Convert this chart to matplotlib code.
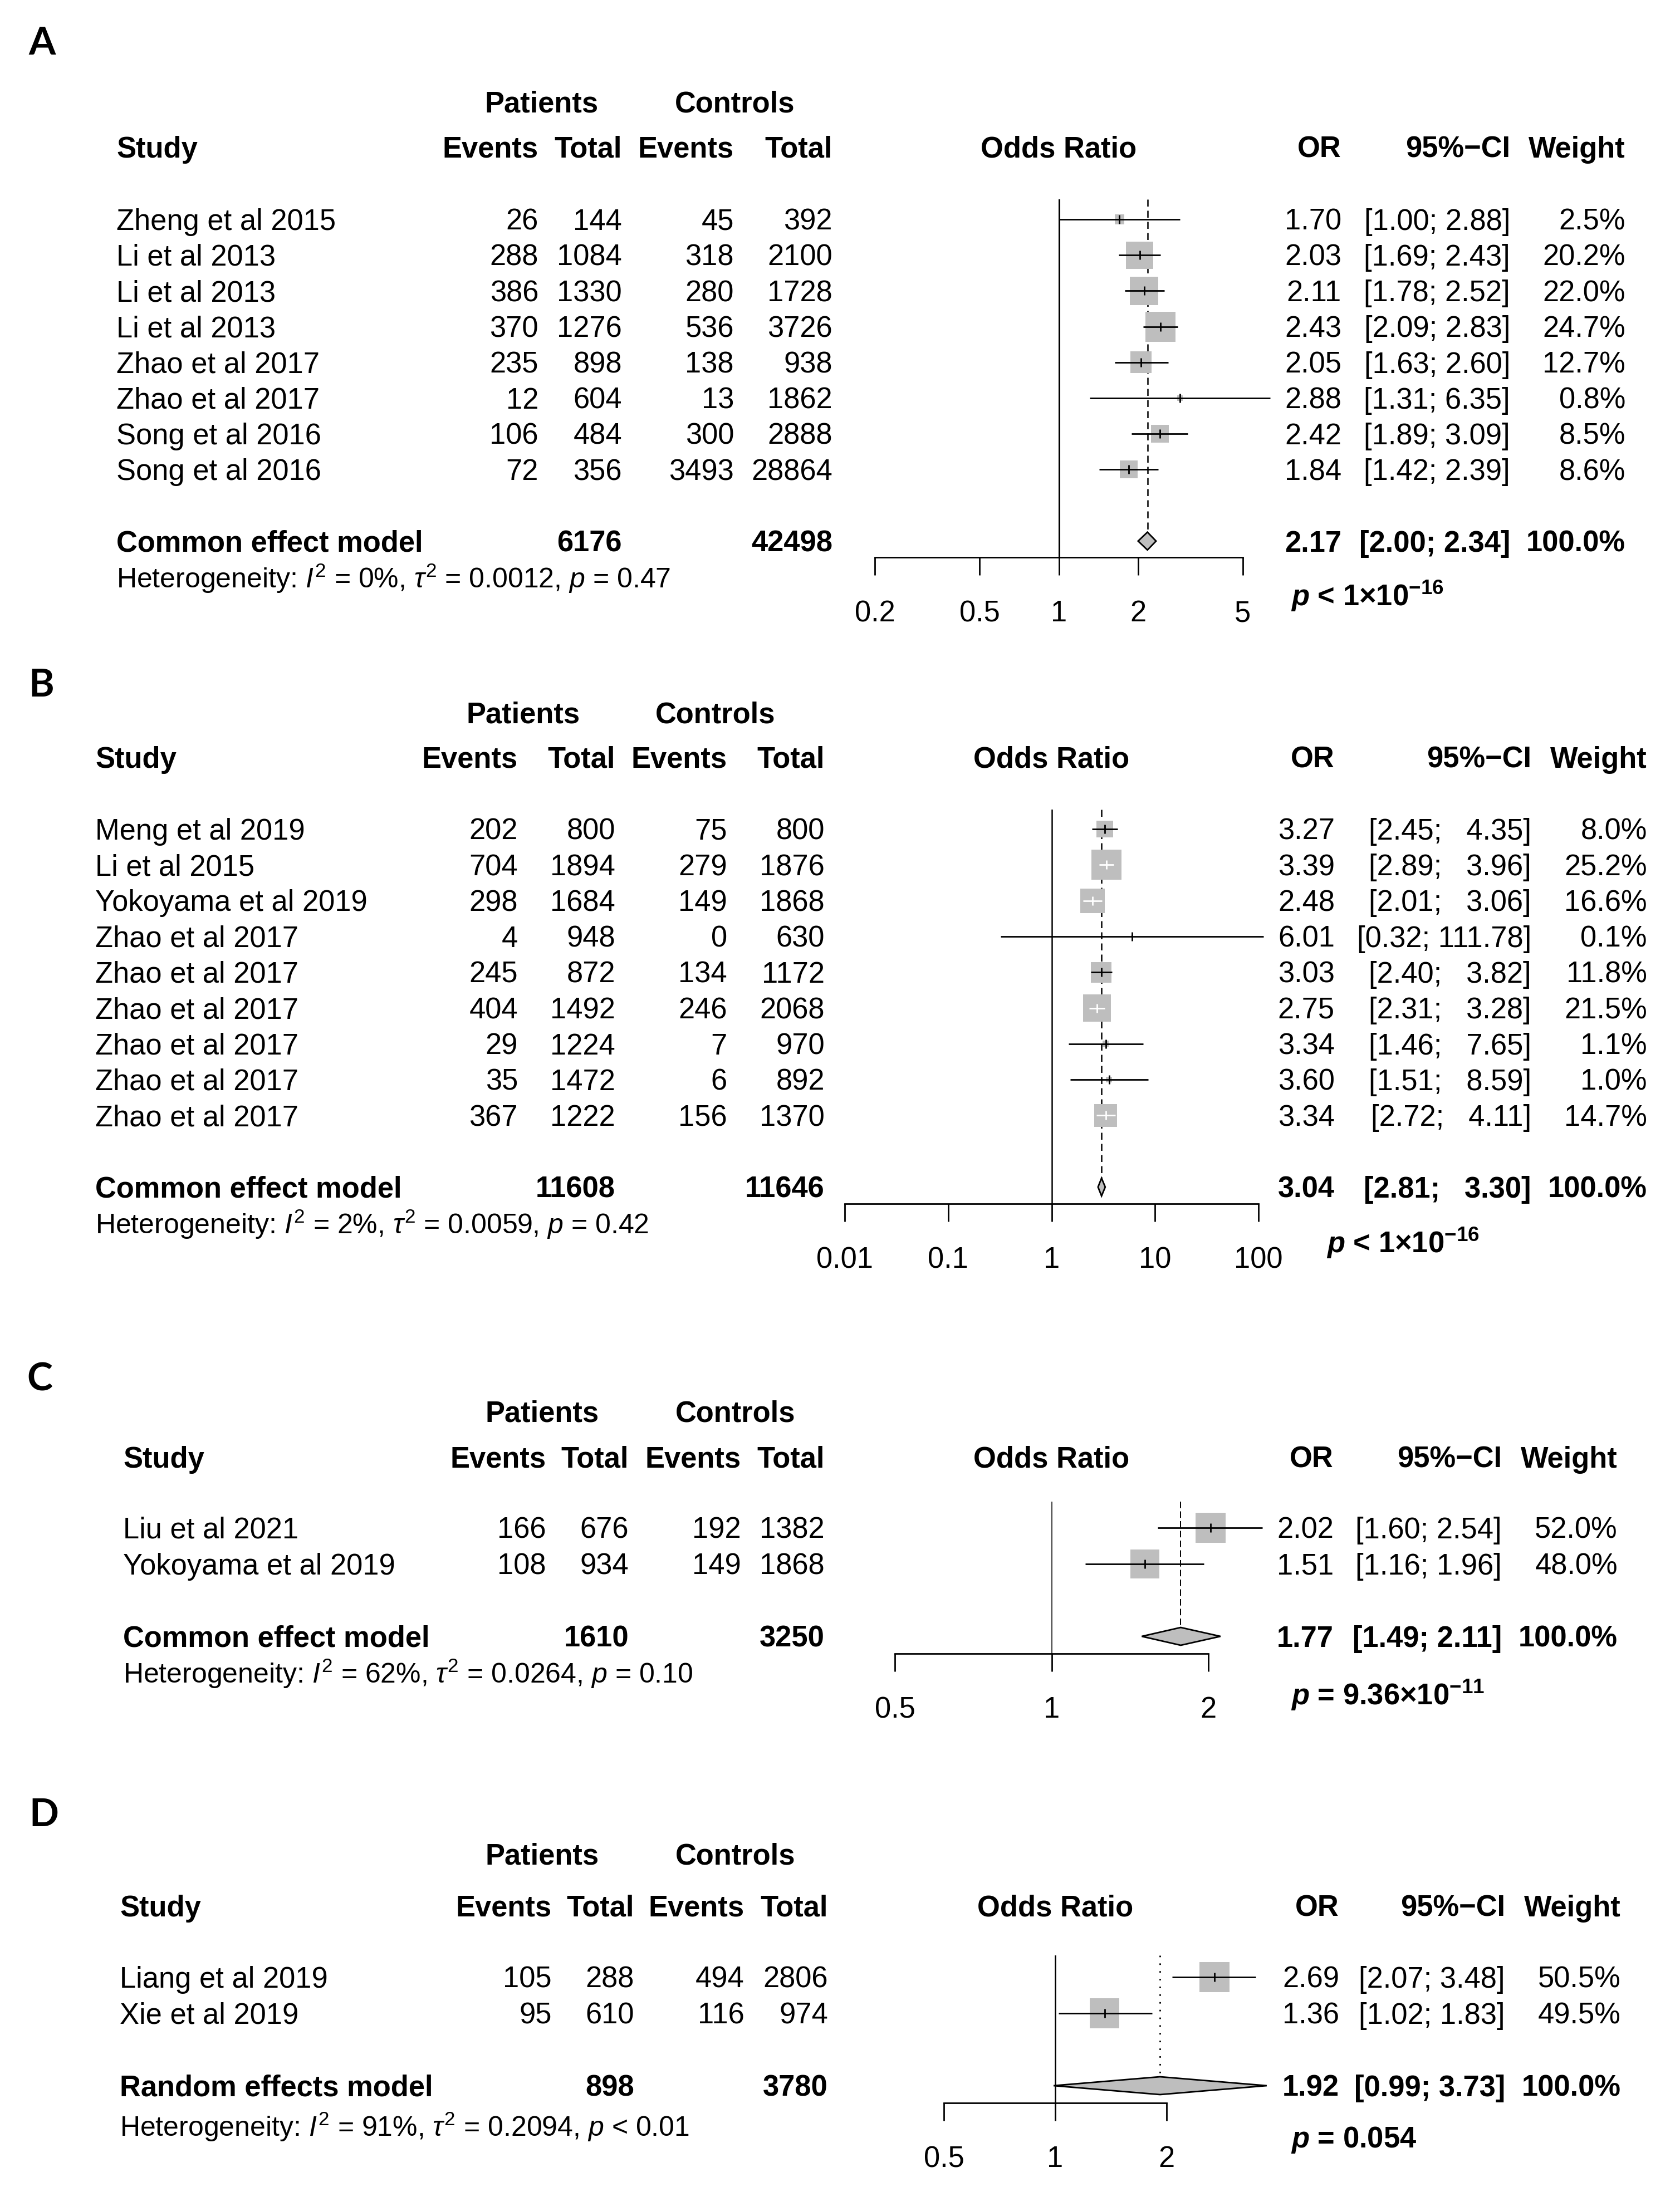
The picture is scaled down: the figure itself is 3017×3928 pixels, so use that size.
import matplotlib
matplotlib.use("Agg")
import matplotlib.pyplot as plt
import numpy as np
from matplotlib.patches import Polygon
from matplotlib.ticker import NullLocator, FixedLocator, FixedFormatter

plt.rcParams['font.family'] = ['Liberation Sans', 'DejaVu Sans']
plt.rcParams['mathtext.fontset'] = 'custom'
plt.rcParams['mathtext.rm'] = 'Liberation Sans'
plt.rcParams['mathtext.it'] = 'Liberation Sans:italic'
plt.rcParams['mathtext.bf'] = 'Liberation Sans:bold'
plt.rcParams['mathtext.sf'] = 'Liberation Sans:bold:italic'

# ------------------------------------------------------------------ data
A_study = ["Zheng et al 2015", "Li et al 2013", "Li et al 2013", "Li et al 2013",
           "Zhao et al 2017", "Zhao et al 2017", "Song et al 2016", "Song et al 2016"]
A_pat_events = [26, 288, 386, 370, 235, 12, 106, 72]
A_pat_total = [144, 1084, 1330, 1276, 898, 604, 484, 356]
A_ctl_events = [45, 318, 280, 536, 138, 13, 300, 3493]
A_ctl_total = [392, 2100, 1728, 3726, 938, 1862, 2888, 28864]
A_or = [1.70, 2.03, 2.11, 2.43, 2.05, 2.88, 2.42, 1.84]
A_lower = [1.00, 1.69, 1.78, 2.09, 1.63, 1.31, 1.89, 1.42]
A_upper = [2.88, 2.43, 2.52, 2.83, 2.60, 6.35, 3.09, 2.39]
A_weight = [2.5, 20.2, 22.0, 24.7, 12.7, 0.8, 8.5, 8.6]
A_model = "Common effect model"
A_sum_totals = [6176, 42498]
A_sum_or = [2.17, 2.00, 2.34]
A_het = r"Heterogeneity: $I^2$ = 0%, $\tau^2$ = 0.0012, $p$ = 0.47"
A_pval = r"$\mathsf{p}$ < 1×10$^{\mathbf{-16}}$"
A_ticks = [0.2, 0.5, 1, 2, 5]
A_ticklabels = ["0.2", "0.5", "1", "2", "5"]

B_study = ["Meng et al 2019", "Li et al 2015", "Yokoyama et al 2019", "Zhao et al 2017",
           "Zhao et al 2017", "Zhao et al 2017", "Zhao et al 2017", "Zhao et al 2017",
           "Zhao et al 2017"]
B_pat_events = [202, 704, 298, 4, 245, 404, 29, 35, 367]
B_pat_total = [800, 1894, 1684, 948, 872, 1492, 1224, 1472, 1222]
B_ctl_events = [75, 279, 149, 0, 134, 246, 7, 6, 156]
B_ctl_total = [800, 1876, 1868, 630, 1172, 2068, 970, 892, 1370]
B_or = [3.27, 3.39, 2.48, 6.01, 3.03, 2.75, 3.34, 3.60, 3.34]
B_lower = [2.45, 2.89, 2.01, 0.32, 2.40, 2.31, 1.46, 1.51, 2.72]
B_upper = [4.35, 3.96, 3.06, 111.78, 3.82, 3.28, 7.65, 8.59, 4.11]
B_weight = [8.0, 25.2, 16.6, 0.1, 11.8, 21.5, 1.1, 1.0, 14.7]
B_model = "Common effect model"
B_sum_totals = [11608, 11646]
B_sum_or = [3.04, 2.81, 3.30]
B_het = r"Heterogeneity: $I^2$ = 2%, $\tau^2$ = 0.0059, $p$ = 0.42"
B_pval = r"$\mathsf{p}$ < 1×10$^{\mathbf{-16}}$"
B_ticks = [0.01, 0.1, 1, 10, 100]
B_ticklabels = ["0.01", "0.1", "1", "10", "100"]

C_study = ["Liu et al 2021", "Yokoyama et al 2019"]
C_pat_events = [166, 108]
C_pat_total = [676, 934]
C_ctl_events = [192, 149]
C_ctl_total = [1382, 1868]
C_or = [2.02, 1.51]
C_lower = [1.60, 1.16]
C_upper = [2.54, 1.96]
C_weight = [52.0, 48.0]
C_model = "Common effect model"
C_sum_totals = [1610, 3250]
C_sum_or = [1.77, 1.49, 2.11]
C_het = r"Heterogeneity: $I^2$ = 62%, $\tau^2$ = 0.0264, $p$ = 0.10"
C_pval = r"$\mathsf{p}$ = 9.36×10$^{\mathbf{-11}}$"
C_ticks = [0.5, 1, 2]
C_ticklabels = ["0.5", "1", "2"]

D_study = ["Liang et al 2019", "Xie et al 2019"]
D_pat_events = [105, 95]
D_pat_total = [288, 610]
D_ctl_events = [494, 116]
D_ctl_total = [2806, 974]
D_or = [2.69, 1.36]
D_lower = [2.07, 1.02]
D_upper = [3.48, 1.83]
D_weight = [50.5, 49.5]
D_model = "Random effects model"
D_sum_totals = [898, 3780]
D_sum_or = [1.92, 0.99, 3.73]
D_het = r"Heterogeneity: $I^2$ = 91%, $\tau^2$ = 0.2094, $p$ < 0.01"
D_pval = r"$\mathsf{p}$ = 0.054"
D_ticks = [0.5, 1, 2]
D_ticklabels = ["0.5", "1", "2"]

PANELS = {
    "A": dict(study=A_study, pe=A_pat_events, pt=A_pat_total, ce=A_ctl_events, ct=A_ctl_total,
              est=A_or, lo=A_lower, hi=A_upper, w=A_weight, model=A_model, tot=A_sum_totals,
              sum=A_sum_or, het=A_het, pval=A_pval, ticks=A_ticks, tl=A_ticklabels),
    "B": dict(study=B_study, pe=B_pat_events, pt=B_pat_total, ce=B_ctl_events, ct=B_ctl_total,
              est=B_or, lo=B_lower, hi=B_upper, w=B_weight, model=B_model, tot=B_sum_totals,
              sum=B_sum_or, het=B_het, pval=B_pval, ticks=B_ticks, tl=B_ticklabels),
    "C": dict(study=C_study, pe=C_pat_events, pt=C_pat_total, ce=C_ctl_events, ct=C_ctl_total,
              est=C_or, lo=C_lower, hi=C_upper, w=C_weight, model=C_model, tot=C_sum_totals,
              sum=C_sum_or, het=C_het, pval=C_pval, ticks=C_ticks, tl=C_ticklabels),
    "D": dict(study=D_study, pe=D_pat_events, pt=D_pat_total, ce=D_ctl_events, ct=D_ctl_total,
              est=D_or, lo=D_lower, hi=D_upper, w=D_weight, model=D_model, tot=D_sum_totals,
              sum=D_sum_or, het=D_het, pval=D_pval, ticks=D_ticks, tl=D_ticklabels),
}

# ------------------------------------------------------------------ layout (pixels)
LAYOUT = {
    "A": dict(label=(51, 73), pat_y=183, head_y=264, row0=394, dy=64.2, axis_y=1001, top_y=358,
              het_y=1038, pval_y=1069, study_x=209, cols=[967, 1117, 1318, 1495], pcx=973, ccx=1320,
              fx=(1571, 2232), or_r=2409, ci_r=2712, w_r=2919, pval_x=2318,
              ref_lw=2.2, sum_ls=(0, (5, 3)), sum_lw=1.8),
    "B": dict(label=(51, 1226), pat_y=1280, head_y=1360, row0=1489, dy=64.3, axis_y=2162, top_y=1454,
              het_y=2198, pval_y=2231, study_x=171, cols=[930, 1105, 1306, 1481], pcx=940, ccx=1285,
              fx=(1517, 2260), or_r=2397, ci_r=2750, w_r=2958, pval_x=2382,
              ref_lw=1.8, sum_ls=(0, (5, 3)), sum_lw=1.8),
    "C": dict(label=(48, 2472), pat_y=2535, head_y=2617, row0=2744, dy=65, axis_y=2970, top_y=2697,
              het_y=3005, pval_y=3043, study_x=221, cols=[981, 1129, 1331, 1481], pcx=974, ccx=1321,
              fx=(1607, 2170), or_r=2395, ci_r=2697, w_r=2905, pval_x=2318,
              ref_lw=1.1, sum_ls=(0, (6, 3)), sum_lw=1.4),
    "D": dict(label=(52, 3255), pat_y=3330, head_y=3423, row0=3551, dy=65, axis_y=3777, top_y=3512,
              het_y=3819, pval_y=3838, study_x=215, cols=[991, 1139, 1337, 1487], pcx=974, ccx=1321,
              fx=(1695, 2095), or_r=2405, ci_r=2703, w_r=2911, pval_x=2318,
              ref_lw=1.8, sum_ls=(0, (1, 4)), sum_lw=2.0),
}

W, H, DPI = 3017, 3928, 100
FS = 37.8          # main text size (pt)
FS_HET = 36.0
LW = 2.0
GRAY = "#BEBEBE"
MAXSIDE = 54       # px, side of the largest square
DIAM_HALF = 16     # px, half-height of summary diamond

fig = plt.figure(figsize=(W / DPI, H / DPI), dpi=DPI)
fig.patch.set_facecolor("white")
axT = fig.add_axes([0, 0, 1, 1])
axT.set_xlim(0, W)
axT.set_ylim(H, 0)
axT.axis("off")


def put(x, yc, s, ha="left", bold=False, fs=FS, family=None):
    em = fs * DPI / 72.0
    kw = {}
    if family:
        kw["family"] = family
    axT.text(x, yc + 0.358 * em, s, ha=ha, va="baseline", fontsize=fs,
             fontweight="bold" if bold else "normal", color="black", **kw)


def ci_strings(lo, hi):
    ls = [f"{v:.2f}" for v in lo]
    us = [f"{v:.2f}" for v in hi]
    wl = max(len(s) for s in ls)
    wu = max(len(s) for s in us)
    return ["[" + l.rjust(wl) + "; " + u.rjust(wu) + "]" for l, u in zip(ls, us)]


for key, d in PANELS.items():
    L = LAYOUT[key]
    n = len(d["study"])
    row_y = [L["row0"] + i * L["dy"] for i in range(n)]
    sum_y = L["row0"] + (n + 1) * L["dy"]

    # panel letter
    lx, ly = L["label"]
    axT.text(lx, ly + 25, key, ha="left", va="baseline", fontsize=50,
             fontweight="bold", family=["Lato", "DejaVu Sans"])

    # headers
    put(L["pcx"], L["pat_y"], "Patients", ha="center", bold=True)
    put(L["ccx"], L["pat_y"], "Controls", ha="center", bold=True)
    put(L["study_x"], L["head_y"], "Study", bold=True)
    for cx, lab in zip(L["cols"], ["Events", "Total", "Events", "Total"]):
        put(cx, L["head_y"], lab, ha="right", bold=True)
    put((L["fx"][0] + L["fx"][1]) / 2, L["head_y"], "Odds Ratio", ha="center", bold=True)
    put(L["or_r"], L["head_y"], "OR", ha="right", bold=True)
    put(L["ci_r"], L["head_y"], "95%\u2212CI", ha="right", bold=True)
    put(L["w_r"], L["head_y"], "Weight", ha="right", bold=True)

    # CI strings (including summary for common width)
    cis = ci_strings(list(d["lo"]) + [d["sum"][1]], list(d["hi"]) + [d["sum"][2]])

    # study rows
    for i in range(n):
        y = row_y[i]
        put(L["study_x"], y, d["study"][i])
        for cx, v in zip(L["cols"], [d["pe"][i], d["pt"][i], d["ce"][i], d["ct"][i]]):
            put(cx, y, str(v), ha="right")
        put(L["or_r"], y, f"{d['est'][i]:.2f}", ha="right")
        put(L["ci_r"], y, cis[i], ha="right")
        put(L["w_r"], y, f"{d['w'][i]:.1f}%", ha="right")

    # summary row
    put(L["study_x"], sum_y, d["model"], bold=True)
    put(L["cols"][1], sum_y, str(d["tot"][0]), ha="right", bold=True)
    put(L["cols"][3], sum_y, str(d["tot"][1]), ha="right", bold=True)
    put(L["or_r"], sum_y, f"{d['sum'][0]:.2f}", ha="right", bold=True)
    put(L["ci_r"], sum_y, cis[-1], ha="right", bold=True)
    put(L["w_r"], sum_y, "100.0%", ha="right", bold=True)

    # heterogeneity + p value
    put(L["study_x"], L["het_y"], d["het"], fs=FS_HET)
    put(L["pval_x"], L["pval_y"], d["pval"], bold=True)

    # ---------------- forest axes
    x0, x1 = L["fx"]
    ax = fig.add_axes([x0 / W, 1 - L["axis_y"] / H, (x1 - x0) / W, (L["axis_y"] - L["top_y"]) / H])
    ax.set_xscale("log")
    ax.set_xlim(d["ticks"][0], d["ticks"][-1])
    ybot = (L["axis_y"] - L["row0"]) / L["dy"]
    ytop = (L["top_y"] - L["row0"]) / L["dy"]
    ax.set_ylim(ybot, ytop)
    ax.patch.set_visible(False)
    for s in ["left", "right", "top"]:
        ax.spines[s].set_visible(False)
    ax.spines["bottom"].set_linewidth(LW)
    ax.yaxis.set_visible(False)
    ax.xaxis.set_major_locator(FixedLocator(d["ticks"]))
    ax.xaxis.set_major_formatter(FixedFormatter(d["tl"]))
    ax.xaxis.set_minor_locator(NullLocator())
    ax.tick_params(axis="x", direction="out", length=23, width=LW, labelsize=FS, pad=32)

    # reference line at OR = 1
    ax.axvline(1, color="black", lw=L["ref_lw"], zorder=1)

    idx = np.arange(n)
    est = np.array(d["est"])
    lo = np.array(d["lo"])
    hi = np.array(d["hi"])
    w = np.array(d["w"])
    side_px = MAXSIDE * np.sqrt(w / w.max())
    ax.scatter(est, idx, s=(side_px * 72 / DPI) ** 2, marker="s", color=GRAY,
               linewidths=0, zorder=2, clip_on=False)

    px_per_dec = (x1 - x0) / (np.log10(d["ticks"][-1]) - np.log10(d["ticks"][0]))
    ci_px = (np.log10(hi) - np.log10(lo)) * px_per_dec
    for i in range(n):
        col = "white" if ci_px[i] < side_px[i] * 0.98 else "black"
        ax.plot([lo[i], hi[i]], [idx[i], idx[i]], color=col, lw=LW, zorder=3,
                clip_on=False, solid_capstyle="butt")
        ax.plot([est[i]], [idx[i]], marker="|", markersize=16 * 72 / DPI, mew=LW,
                color=col, zorder=4, clip_on=False)

    # summary diamond
    se, sl, sh = d["sum"]
    ys = n + 1
    dh = DIAM_HALF / L["dy"]
    diamond = Polygon(np.column_stack([[sl, se, sh, se], [ys, ys - dh, ys, ys + dh]]),
                      closed=True, facecolor=GRAY, edgecolor="black", lw=LW,
                      zorder=3, clip_on=False)
    ax.add_patch(diamond)
    ax.plot([se, se], [ytop, ys - dh], color="black", lw=L["sum_lw"],
            linestyle=L["sum_ls"], zorder=1)

fig.savefig("out.png", dpi=DPI, facecolor="white")
